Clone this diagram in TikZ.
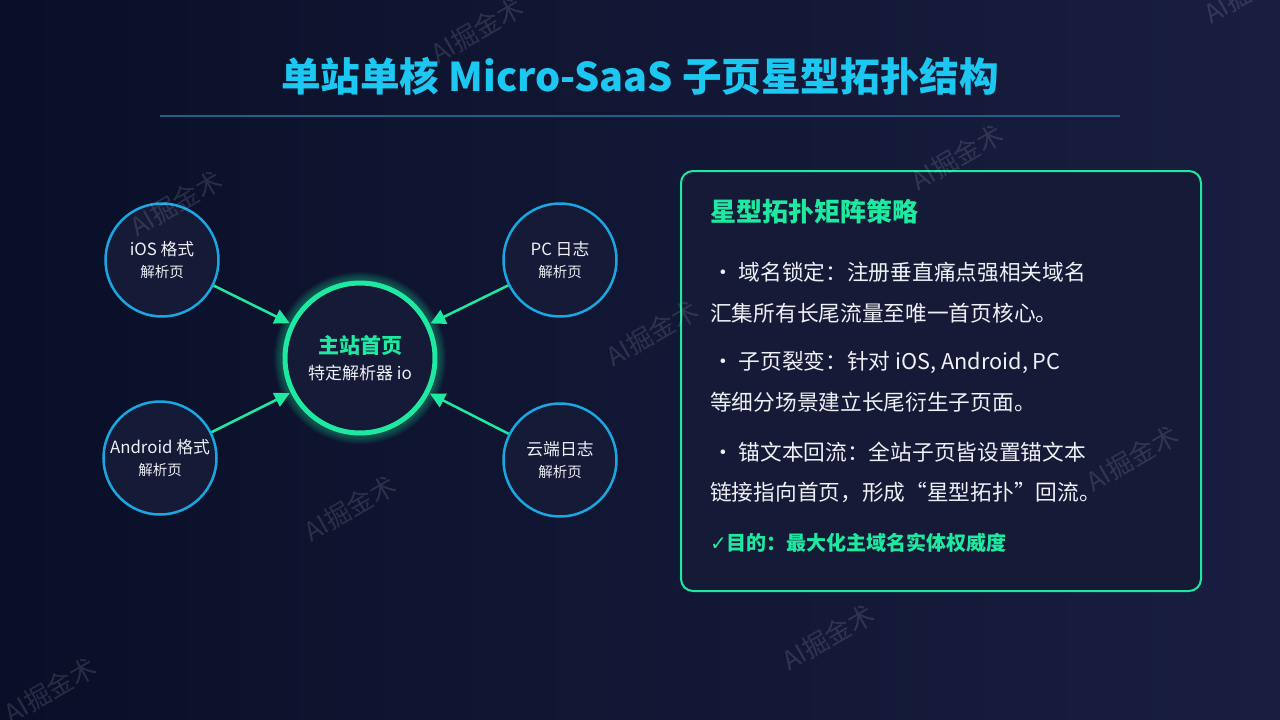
\documentclass[tikz,border=0pt]{standalone}
\usepackage{fontspec}
\setmainfont{Noto Sans CJK SC}
\newfontfamily\symfont{DejaVu Sans}
\usetikzlibrary{arrows.meta}
\definecolor{bgleft}{HTML}{0A0F28}
\definecolor{bgright}{HTML}{191E40}
\definecolor{titlecyan}{HTML}{1CC8F2}
\definecolor{ringblue}{HTML}{1AA6E0}
\definecolor{glowgreen}{HTML}{1FE8A0}
\definecolor{cardfill}{HTML}{151A36}
\definecolor{textwhite}{HTML}{EEF0F5}
\definecolor{rulecol}{HTML}{1F5F88}

\begin{document}
\begin{tikzpicture}[x=1pt,y=-1pt]
\tikzset{leaf/.style={circle,draw=ringblue,line width=2.5pt,fill=cardfill,minimum size=113pt,inner sep=0pt,align=center,text=textwhite,font=\fontsize{16.8}{22}\selectfont},
  hub/.style={circle,draw=glowgreen,line width=5pt,fill=cardfill,minimum size=150pt,inner sep=0pt,align=center,text=textwhite},
  link/.style={draw=glowgreen,line width=2.5pt,-{Triangle[length=15pt,width=15pt]},shorten >=1pt},
  body/.style={anchor=west,text=textwhite,font=\fontsize{21.7}{26}\selectfont,inner sep=0pt},
  wmark/.style={text=white,opacity=0.12,rotate=30,font=\fontsize{26}{26}\selectfont}}
\fill[left color=bgleft,right color=bgright] (0,0) rectangle (1280,720);
\useasboundingbox (0,0) rectangle (1280,720);

\node[text=titlecyan,font=\fontsize{39.6}{42}\selectfont\bfseries] (title) at (640,76) {单站单核 Micro-SaaS 子页星型拓扑结构};
\draw[rulecol,line width=1.5pt] (160,116) -- (1120,116);

\foreach \r in {1,...,7}
  \draw[glowgreen,opacity=0.05,line width=5pt+2.2pt*\r] (360,358) circle (76);
\node[hub] (main) at (360,358) {{\fontsize{21}{24}\selectfont\bfseries\color{glowgreen}主站首页}\\[9pt]{\fontsize{17}{20}\selectfont 特定解析器 io}};
\node[leaf] (ios) at (162,260) {iOS 格式\\{\fontsize{14.5}{18}\selectfont 解析页}};
\node[leaf] (pc) at (560,260) {PC 日志\\{\fontsize{14.5}{18}\selectfont 解析页}};
\node[leaf] (android) at (160,458) {Android 格式\\{\fontsize{14.5}{18}\selectfont 解析页}};
\node[leaf] (cloud) at (560,460) {云端日志\\{\fontsize{14.5}{18}\selectfont 解析页}};
\draw[link] (ios) -- (main);
\draw[link] (pc) -- (main);
\draw[link] (android) -- (main);
\draw[link] (cloud) -- (main);

\node[draw=glowgreen,line width=2pt,fill=cardfill,rounded corners=12pt,minimum width=520pt,minimum height=420pt,anchor=north west] (panel) at (680,170) {};
\node[anchor=west,inner sep=0pt,text=glowgreen,font=\fontsize{26}{28}\selectfont\bfseries] (head) at (710,212) {星型拓扑矩阵策略};
\node[body] (b1) at (712,272) {・ 域名锁定：注册垂直痛点强相关域名};
\node[body] (b1b) at (710,313) {汇集所有长尾流量至唯一首页核心。};
\node[body] (b2) at (712,362) {・ 子页裂变：针对 iOS, Android, PC};
\node[body] (b2b) at (710,402) {等细分场景建立长尾衍生子页面。};
\node[body] (b3) at (712,452) {・ 锚文本回流：全站子页皆设置锚文本};
\node[body] (b3b) at (710,492) {链接指向首页，形成“星型拓扑”回流。};
\node[body,text=glowgreen,font=\fontsize{20}{24}\selectfont\bfseries] (goal) at (710,543) {{\symfont\mdseries ✓}目的：最大化主域名实体权威度};

% watermark on top
\foreach \wx/\wy in {176/203,477/30,957/157,1250/-10,652/333,350/508,1132/458,828/637,50/690}
  \node[wmark] at (\wx,\wy) {AI掘金术};
\end{tikzpicture}
\end{document}
